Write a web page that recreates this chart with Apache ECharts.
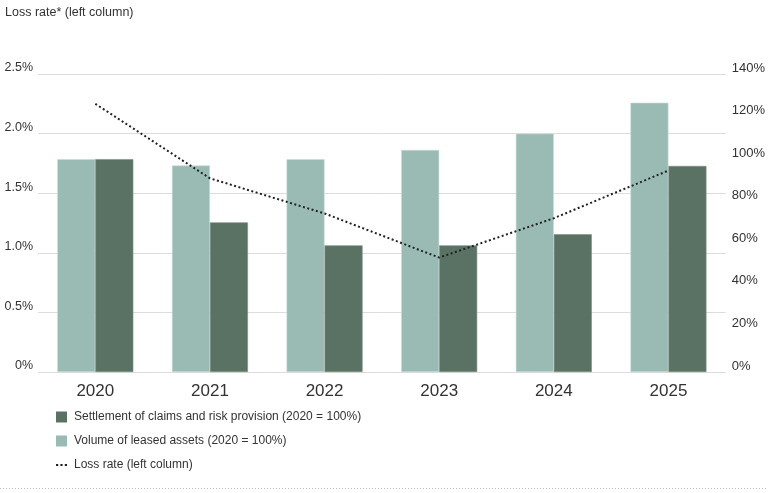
<!DOCTYPE html>
<html><head><meta charset="utf-8">
<script src="https://cdn.jsdelivr.net/npm/echarts@6/dist/echarts.min.js"></script>
<style>html,body{margin:0;padding:0;background:#fff}#c{width:768px;height:493px}</style>
</head><body><div id="c"></div>
<script>
const categories = ['2020','2021','2022','2023','2024','2025'];
const settlement = [100, 70.3, 59.5, 59.5, 64.7, 96.8];
const volume = [100, 97, 100, 104.3, 112, 126.5];
const lossRate = [2.25, 1.625, 1.33, 0.96, 1.29, 1.69];
const leftTicks = [0, 0.5, 1.0, 1.5, 2.0, 2.5];
const rightTicks = [0, 20, 40, 60, 80, 100, 120, 140];

const FONT = 'Liberation Sans, Arial, Helvetica, sans-serif';
const chart = echarts.init(document.getElementById('c'), null, {renderer:'canvas'});
chart.setOption({
  animation:false,
  textStyle:{fontFamily:FONT},
  title:{text:'Loss rate* (left column)', left:5, top:6, padding:0,
    textStyle:{fontSize:12.5, fontWeight:'normal', color:'#333', fontFamily:FONT}},
  graphic:[{type:'line', shape:{x1:0,y1:488.5,x2:768,y2:488.5},
    style:{stroke:'#bbb', lineWidth:1, lineDash:[1,2]}}],
  legend:{orient:'vertical', left:56, top:411, padding:0, itemWidth:11, itemHeight:11, itemGap:12,
    itemStyle:{borderWidth:0},
    textStyle:{fontSize:12, color:'#333', fontFamily:FONT, lineHeight:11, padding:[0,0,0,2]},
    data:[
      {name:'Settlement of claims and risk provision (2020 = 100%)', icon:'rect'},
      {name:'Volume of leased assets (2020 = 100%)', icon:'rect'},
      {name:'Loss rate (left column)', icon:'path://M0,4h2v2h-2zM4,4h2v2h-2zM8,4h2v2h-2z'}
    ]},
  grid:{left:38, right:40, top:74, bottom:121},
  xAxis:{type:'category', data:categories,
    axisLine:{show:false}, axisTick:{show:false},
    axisLabel:{fontSize:17, color:'#333', margin:11, fontFamily:FONT}},
  yAxis:[
    {type:'value', min:0, max:2.5, interval:0.5, position:'left',
     axisLabel:{show:false},
     splitLine:{lineStyle:{color:'#ddd', width:1}},
     axisLine:{show:false}, axisTick:{show:false}},
    {type:'value', min:0, max:140, interval:20, position:'right',
     axisLabel:{fontSize:13, color:'#333', margin:6, align:'left', verticalAlign:'bottom', lineHeight:12, fontFamily:FONT,
       formatter:v=>v+'%'},
     splitLine:{show:false}, axisLine:{show:false}, axisTick:{show:false}},
    {type:'value', min:0, max:2.5, interval:0.5, position:'left', offset:0,
     axisLabel:{fontSize:12.5, color:'#333', margin:5, verticalAlign:'bottom', lineHeight:12, fontFamily:FONT,
       formatter:v=>(v===0?'0':v.toFixed(1))+'%'},
     splitLine:{show:false}, axisLine:{show:false}, axisTick:{show:false}}
  ],
  series:[
    {name:'Volume of leased assets (2020 = 100%)', type:'bar', yAxisIndex:1, data:volume,
     barWidth:38, barGap:'0%', itemStyle:{color:'#99bbb4', borderColor:'#c9dcd8', borderWidth:0.6}, z:2},
    {name:'Settlement of claims and risk provision (2020 = 100%)', type:'bar', yAxisIndex:1, data:settlement,
     barWidth:38, barGap:'0%', itemStyle:{color:'#5a7264', borderColor:'#7c8f84', borderWidth:0.6}, z:2},
    {name:'Loss rate (left column)', type:'line', yAxisIndex:0, data:lossRate,
     symbol:'none', lineStyle:{color:'#222', width:2, type:[2,2.5]},
     itemStyle:{color:'#222'}, z:5}
  ]
});
</script></body></html>
